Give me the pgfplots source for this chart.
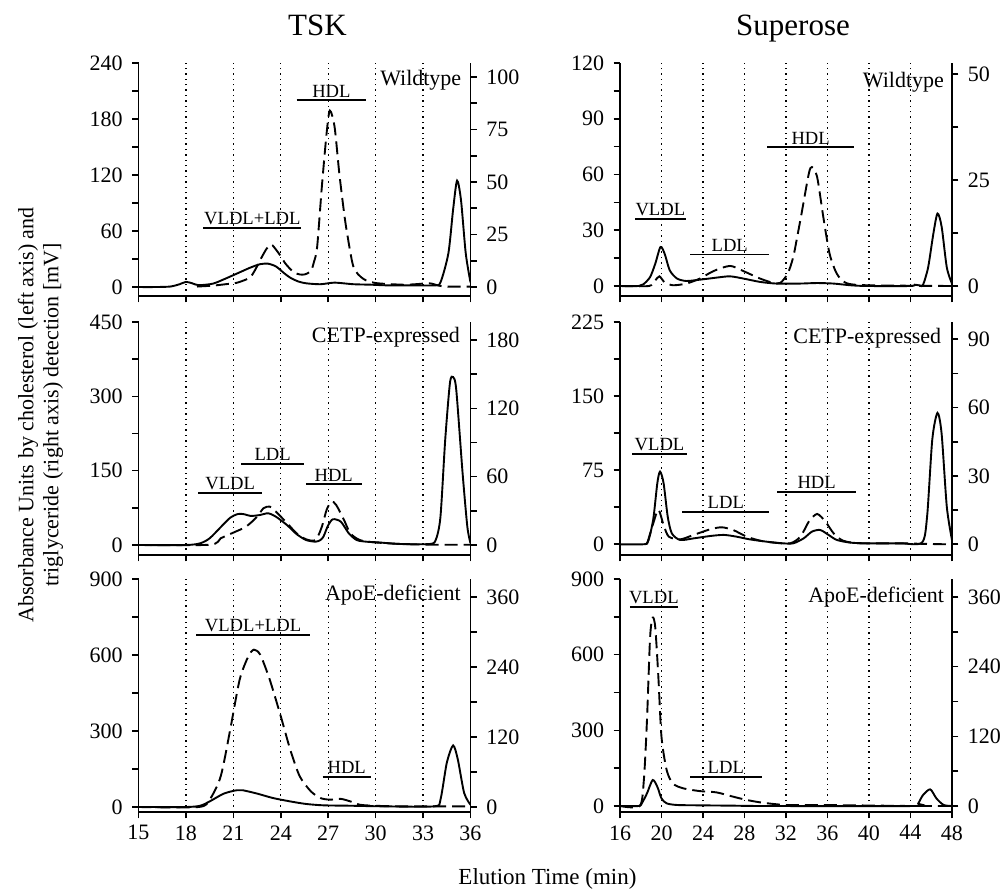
\documentclass[border=0pt]{standalone}
\usepackage{fontspec}
\setmainfont{Liberation Serif}
\usepackage{pgfplots}
\pgfplotsset{compat=1.18}
\pgfplotsset{
  base/.style={
    scale only axis, width=166pt, height=116.5pt,
    axis line style={-, line width=0.9pt},
    tick align=outside,
    major tick length=3.2pt, minor tick length=3.2pt,
    tick style={black, line width=0.8pt},
    tick label style={font=\fontsize{11}{12}\selectfont},
    yticklabel style={inner xsep=4.5pt},
    /pgf/number format/assume math mode=true,
    minor y tick num=1,
  },
  main/.style={base,
    axis x line*=bottom, axis y line*=left,
    xmajorgrids, major grid style={black, line width=0.6pt, dash pattern=on 0.7pt off 2pt},
  },
  sec/.style={base, axis x line=none, axis y line*=right},
  solidc/.style={black, line width=0.95pt, smooth, tension=0.45},
  dashc/.style={black, line width=0.95pt, smooth, tension=0.45, dash pattern=on 6.5pt off 3pt},
}
\tikzset{
  frac/.style={font=\fontsize{9.3}{10}\selectfont, inner sep=1.2pt},
  plab/.style={font=\fontsize{11}{13}\selectfont, inner sep=0pt, anchor=north east},
}
\begin{document}
\begin{tikzpicture}
\path[use as bounding box] (0,0) rectangle (501.5pt,445pt);
% titles and axis labels
\node[anchor=base, font=\fontsize{15.5}{18}\selectfont] at (158.75pt,427pt) {TSK};
\node[anchor=base, font=\fontsize{15.5}{18}\selectfont] at (396.5pt,427pt) {Superose};
\node[rotate=90, align=center, font=\fontsize{11}{12.5}\selectfont] at (20.25pt,237.5pt) {Absorbance Units by cholesterol (left axis) and\\triglyceride (right axis) detection [mV]};
\node[anchor=base, font=\fontsize{11.5}{13}\selectfont] at (273.75pt,2.5pt) {Elution Time (min)};

% ---------- Row 1 left: TSK Wildtype ----------
\begin{axis}[main, at={(69.25pt,297pt)}, anchor=south west,
  xmin=15, xmax=36, ymin=-9.6, ymax=240,
  xtick={15,18,...,36}, xticklabels={}, ytick={0,60,...,240}]
\addplot[solidc] coordinates {(15,0)(16,0)(17,0.5)(17.6,3)(18,5.5)(18.4,4)(18.8,2)(19.7,3.6)(20.5,9)(21.3,15)(22.1,21)(22.7,24.5)(23.2,25)(23.7,22)(24.2,15)(24.6,10)(25.1,6)(25.6,4)(26.5,3)(27.4,4.7)(28.6,3)(29.7,2.5)(30.7,1.8)(32,1.8)(33.7,1.8)(34.1,5)(34.6,36)(34.9,83)(35.15,114)(35.4,93)(35.7,36)(36,5)};
\addplot[dashc] coordinates {(18.7,0.5)(19.7,1.5)(20.5,3)(21.2,4.5)(21.8,8)(22.1,11)(22.4,19)(22.7,29)(23.1,41)(23.4,45.5)(23.7,40)(24,33)(24.3,25)(24.8,16)(25.2,13.5)(25.5,13.5)(25.9,17)(26.1,27)(26.3,43)(26.6,108)(26.9,165)(27.1,189)(27.4,172)(27.7,122)(28.0,80)(28.2,57)(28.6,21.5)(29.2,9)(30.0,4.3)(31.7,2.5)(32.5,3)(33.4,4)(34,1.5)(34.5,0.5)(36,0.5)};
\draw[line width=0.9pt] (axis cs:25.0,200) -- (axis cs:29.4,200) node[midway, above, frac] {HDL};
\draw[line width=0.9pt] (axis cs:19.1,63) -- (axis cs:25.3,63) node[midway, above, frac] {VLDL+LDL};
\node[plab] at (axis cs:35.44,232.5) {Wildtype};
\end{axis}
\begin{axis}[sec, at={(69.25pt,297pt)}, anchor=south west,
  xmin=15, xmax=36, ymin=-4.29, ymax=106.67, ytick={0,25,...,100}]
\end{axis}

% ---------- Row 1 right: Superose Wildtype ----------
\begin{axis}[main, at={(310pt,297pt)}, anchor=south west,
  xmin=16, xmax=48, ymin=-5.38, ymax=120,
  xtick={16,20,...,48}, xticklabels={}, ytick={0,30,...,120}]
\addplot[solidc] coordinates {(16,0)(17.8,0)(18.25,0.9)(18.9,4.8)(19.4,12)(19.9,21)(20.3,17.4)(20.8,8.4)(21.5,4)(22.4,2.7)(23.7,3.4)(25.3,4.5)(26.6,5.2)(27.9,4)(29.5,2.2)(31.1,1.3)(33.3,1.3)(35,1.6)(36.6,1.3)(38.2,0.4)(39.8,0)(44,0)(44.4,0.7)(44.9,0.3)(45.2,0.5)(45.7,10)(46.2,28)(46.6,39)(47.0,32)(47.5,10)(48,1.3)};
\addplot[dashc] coordinates {(16,0)(18.8,0)(19.4,3)(19.8,5.2)(20.3,2)(21.1,0.4)(22.4,1.3)(23.7,4)(25,8)(26.6,10.8)(27.9,8)(29.5,4)(30.8,1.6)(31.4,1.6)(31.7,3)(32.2,7)(32.7,15.6)(33.1,27)(33.5,39)(34.2,60.5)(34.5,64)(35,58.7)(35.6,37)(36.2,17.4)(36.9,6.6)(37.8,1.6)(39.8,0.4)(48,0)};
\draw[line width=0.9pt] (axis cs:17.45,35.9) -- (axis cs:22.33,35.9) node[midway, above, frac] {VLDL};
\draw[line width=0.9pt] (axis cs:22.75,17.0) -- (axis cs:30.4,17.0) node[midway, above, frac] {LDL};
\draw[line width=0.9pt] (axis cs:30.2,74.6) -- (axis cs:38.55,74.6) node[midway, above, frac] {HDL};
\node[plab] at (axis cs:47.26,115.3) {Wildtype};
\end{axis}
\begin{axis}[sec, at={(310pt,297pt)}, anchor=south west,
  xmin=16, xmax=48, ymin=-2.36, ymax=52.59, ytick={0,25,50}]
\end{axis}

% ---------- Row 2 left: TSK CETP ----------
\begin{axis}[main, at={(69.25pt,167.5pt)}, anchor=south west,
  xmin=15, xmax=36, ymin=-20.18, ymax=450,
  xtick={15,18,...,36}, xticklabels={}, ytick={0,150,...,450}]
\addplot[solidc] coordinates {(15,0)(18,0)(18.9,3.4)(19.5,13.5)(20.2,36)(20.8,55)(21.3,62.6)(21.7,62)(22.1,58.6)(22.7,60.6)(23.2,64)(23.7,57)(24.4,40)(25,22)(25.6,10)(26.2,6.7)(26.5,10)(26.7,17)(27,40)(27.3,52)(27.8,47)(28.3,23.6)(28.8,10)(29.4,6.7)(30.1,5.4)(31.6,2)(33.4,2)(33.8,10)(34.1,57)(34.4,212)(34.7,327)(34.9,339)(35.1,313)(35.5,145)(35.8,37)(36,3.4)};
\addplot[dashc] coordinates {(15,0)(19.5,0.5)(20.2,13.5)(21,25)(21.8,37)(22.5,57)(22.9,74)(23.3,77.5)(23.7,67)(24.4,44)(25,23.6)(25.6,11.5)(26.2,10)(26.6,37)(26.9,71)(27.2,87.6)(27.5,81)(28,50.5)(28.4,23.6)(29,10)(29.9,5.4)(31.6,2)(33.7,0.5)(36,0.5)};
\draw[line width=0.9pt] (axis cs:18.79,105.5) -- (axis cs:22.8,105.5) node[midway, above, frac] {VLDL};
\draw[line width=0.9pt] (axis cs:21.49,162.8) -- (axis cs:25.48,162.8) node[midway, above, frac] {LDL};
\draw[line width=0.9pt] (axis cs:25.58,122.4) -- (axis cs:29.12,122.4) node[midway, above, frac] {HDL};
\node[plab] at (axis cs:35.35,440.6) {CETP-expressed};
\end{axis}
\begin{axis}[sec, at={(69.25pt,167.5pt)}, anchor=south west,
  xmin=15, xmax=36, ymin=-8.78, ymax=195.8, ytick={0,60,...,180}]
\end{axis}

% ---------- Row 2 right: Superose CETP ----------
\begin{axis}[main, at={(310pt,167.5pt)}, anchor=south west,
  xmin=16, xmax=48, ymin=-10.83, ymax=225,
  xtick={16,20,...,48}, xticklabels={}, ytick={0,75,...,225}]
\addplot[solidc] coordinates {(16,0)(18.2,0)(18.7,2.7)(19.2,25)(19.6,62)(19.86,73.6)(20.2,62)(20.6,28)(21,11)(21.8,4.4)(23.1,6)(24.7,8.4)(26,9.5)(27.2,7.8)(28.5,5)(30.1,2.7)(31.7,1)(32.7,1)(33.7,6)(34.5,12.8)(35.3,14.5)(36.1,9.5)(36.9,4.4)(38.2,1.7)(39.8,1)(43,1)(45.1,1.7)(45.6,28)(46.1,106)(46.6,133)(47,112)(47.5,38)(48,4.4)};
\addplot[dashc] coordinates {(18.6,0)(19.2,21)(19.7,35)(20.2,19.6)(20.7,7.8)(21.8,5)(23.1,9.5)(24.7,15.2)(25.8,17.2)(26.9,14.5)(28.2,7.8)(29.5,3.7)(30.8,1.7)(32.4,1)(33.4,7.8)(34.2,23)(35,30.7)(35.8,23)(36.6,11)(37.5,3.7)(39.1,1)(43,1)(45,0.5)(47.5,0)};
\draw[line width=0.9pt] (axis cs:17.19,91.1) -- (axis cs:22.43,91.1) node[midway, above, frac] {VLDL};
\draw[line width=0.9pt] (axis cs:22.0,33) -- (axis cs:30.4,33) node[midway, above, frac] {LDL};
\draw[line width=0.9pt] (axis cs:31.16,52.6) -- (axis cs:38.75,52.6) node[midway, above, frac] {HDL};
\node[plab] at (axis cs:47.0,218.6) {CETP-expressed};
\end{axis}
\begin{axis}[sec, at={(310pt,167.5pt)}, anchor=south west,
  xmin=16, xmax=48, ymin=-4.70, ymax=97.59, ytick={0,30,...,90}]
\end{axis}

% ---------- Row 3 left: TSK ApoE ----------
\begin{axis}[main, at={(69.25pt,39pt)}, anchor=south west,
  xmin=15, xmax=36, ymin=-19.74, ymax=900,
  xtick={15,18,...,36}, ytick={0,300,...,900}]
\addplot[solidc] coordinates {(15,0)(18,0)(18.9,5)(19.5,22)(20.4,53)(21.2,66)(21.6,66)(22.5,53)(23.5,35.5)(24.6,22)(25.6,12)(26.7,6.6)(28.4,5)(30.5,2.6)(33.7,2.6)(34.1,29)(34.5,174)(34.9,243)(35.2,187)(35.6,55)(36,9)};
\addplot[dashc] coordinates {(15,0)(18.8,0)(19.5,29)(20.2,121)(20.8,305)(21.4,503)(21.95,595)(22.3,621)(22.7,601)(23.3,503)(24,358)(24.6,226)(25.2,121)(25.9,62)(26.5,35.5)(27.1,29)(27.8,32)(28.4,22)(29,9)(29.9,5)(31.6,2.6)(36,2.6)};
\draw[line width=0.9pt] (axis cs:18.64,677.8) -- (axis cs:25.85,677.8) node[midway, above, frac] {VLDL+LDL};
\draw[line width=0.9pt] (axis cs:26.64,119.6) -- (axis cs:29.7,119.6) node[midway, above, frac] {HDL};
\node[plab] at (axis cs:35.4,876) {ApoE-deficient};
\end{axis}
\begin{axis}[sec, at={(69.25pt,39pt)}, anchor=south west,
  xmin=15, xmax=36, ymin=-8.57, ymax=390.9, ytick={0,120,...,360}]
\end{axis}

% ---------- Row 3 right: Superose ApoE ----------
\begin{axis}[main, at={(310pt,39pt)}, anchor=south west,
  xmin=16, xmax=48, ymin=-23.8, ymax=900,
  xtick={16,20,...,48}, ytick={0,300,...,900}]
\addplot[solidc] coordinates {(16,0)(17.8,0)(18.1,10.5)(18.6,50)(19.15,103)(19.6,76)(20,30)(20.5,10.5)(21.5,4)(23.7,2.6)(26.9,1.3)(30,0)(44.4,0)(44.75,10.5)(45.2,43)(45.9,66)(46.5,30)(47.2,4)(48,0)};
\addplot[dashc] coordinates {(16,0)(17.9,0)(18.3,103)(18.6,340)(18.9,668)(19.15,747)(19.4,708)(19.7,510)(20,274)(20.5,142)(21.1,89)(22.1,70)(23.7,59)(25.3,54)(26.9,37)(28.2,24)(29.5,14.5)(30.8,8)(32.1,4)(35,4)(39.8,2)(44,0)(48,0)};
\draw[line width=0.9pt] (axis cs:16.96,787.9) -- (axis cs:21.56,787.9) node[midway, above, frac] {VLDL};
\draw[line width=0.9pt] (axis cs:22.75,113.8) -- (axis cs:29.65,113.8) node[midway, above, frac] {LDL};
\node[plab] at (axis cs:47.26,869.6) {ApoE-deficient};
\end{axis}
\begin{axis}[sec, at={(310pt,39pt)}, anchor=south west,
  xmin=16, xmax=48, ymin=-10.33, ymax=391, ytick={0,120,...,360}]
\end{axis}
\end{tikzpicture}
\end{document}
